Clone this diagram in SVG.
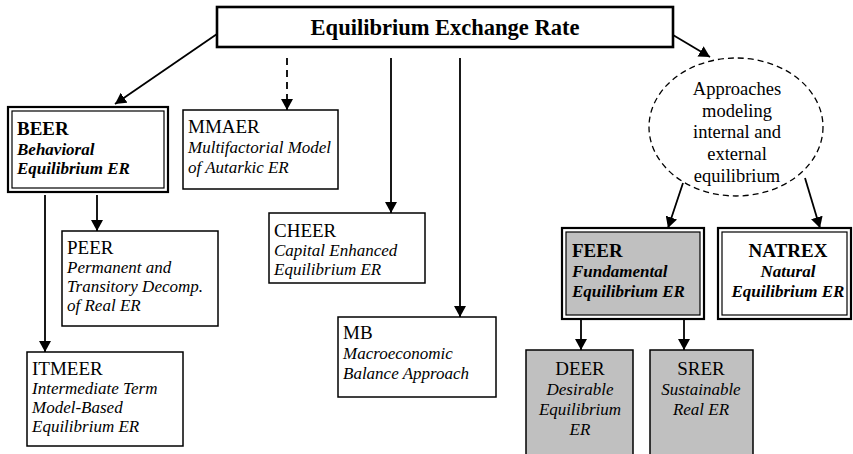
<svg xmlns="http://www.w3.org/2000/svg" width="853" height="454" viewBox="0 0 853 454" font-family="Liberation Serif, Times New Roman, serif">
<defs>
<marker id="ah" markerUnits="userSpaceOnUse" markerWidth="12" markerHeight="12" refX="11" refY="6" orient="auto">
<path d="M0,0 L11,6 L0,12 z" fill="#000"/>
</marker>
<style>
.h{font-size:19px}
.hb{font-size:19px;font-weight:bold}
.i{font-size:17px;font-style:italic}
.bi{font-size:17px;font-style:italic;font-weight:bold}
.e{font-size:18.5px;text-anchor:middle}
.c{text-anchor:middle}
.box{fill:#fff;stroke:#000;stroke-width:1.5}
.gbox{fill:#c0c0c0;stroke:#000;stroke-width:1.5}
.outer{stroke:#000;stroke-width:2.2}
.inner{stroke:#000;stroke-width:1.2}
.con{stroke:#000;stroke-width:1.8;fill:none;marker-end:url(#ah)}
</style>
</defs>
<rect width="853" height="454" fill="#fff"/>

<g id="connectors">
<line class="con" x1="217" y1="34" x2="115" y2="104"/>
<line class="con" x1="287" y1="58" x2="287" y2="110" stroke-dasharray="7,5"/>
<line class="con" x1="391" y1="58" x2="391" y2="213"/>
<line class="con" x1="460" y1="58" x2="460" y2="317"/>
<line class="con" x1="673" y1="35" x2="710" y2="57"/>
<line class="con" x1="683" y1="183" x2="668" y2="228"/>
<line class="con" x1="805" y1="178" x2="820" y2="228"/>
<line class="con" x1="97" y1="195" x2="97" y2="231"/>
<line class="con" x1="45" y1="195" x2="45" y2="352"/>
<line class="con" x1="581" y1="319" x2="581" y2="350"/>
<line class="con" x1="684" y1="319" x2="684" y2="350"/>
</g>

<g id="top">
<rect x="217" y="7" width="456" height="40" fill="#fff" stroke="#000" stroke-width="2.6"/>
<text x="445" y="35" font-size="22.5" font-weight="bold" text-anchor="middle">Equilibrium Exchange Rate</text>
</g>

<g id="beer">
<rect class="outer" x="8" y="107" width="160" height="85" fill="#fff"/>
<rect class="inner" x="12" y="111" width="152" height="77" fill="none"/>
<text class="hb" x="17" y="135">BEER</text>
<text class="bi" x="17" y="155">Behavioral</text>
<text class="bi" x="17" y="174">Equilibrium ER</text>
</g>

<g id="mmaer">
<rect class="box" x="183" y="110" width="155" height="79"/>
<text class="h" x="188" y="133">MMAER</text>
<text class="i" x="188" y="153">Multifactorial Model</text>
<text class="i" x="188" y="173">of Autarkic ER</text>
</g>

<g id="cheer">
<rect class="box" x="269" y="213" width="156" height="70"/>
<text class="h" x="274" y="237">CHEER</text>
<text class="i" x="274" y="256">Capital Enhanced</text>
<text class="i" x="274" y="275">Equilibrium ER</text>
</g>

<g id="mb">
<rect class="box" x="338" y="317" width="158" height="80"/>
<text class="h" x="343" y="339">MB</text>
<text class="i" x="343" y="359">Macroeconomic</text>
<text class="i" x="343" y="379">Balance Approach</text>
</g>

<g id="peer">
<rect class="box" x="62" y="231" width="156" height="95"/>
<text class="h" x="67" y="254">PEER</text>
<text class="i" x="67" y="273">Permanent and</text>
<text class="i" x="67" y="292">Transitory Decomp.</text>
<text class="i" x="67" y="311">of Real ER</text>
</g>

<g id="itmeer">
<rect class="box" x="27" y="352" width="156" height="94"/>
<text class="h" x="32" y="375">ITMEER</text>
<text class="i" x="32" y="394">Intermediate Term</text>
<text class="i" x="32" y="413">Model-Based</text>
<text class="i" x="32" y="432">Equilibrium ER</text>
</g>

<g id="approaches">
<ellipse cx="736" cy="127" rx="87" ry="69" fill="#fff" stroke="#000" stroke-width="1.3" stroke-dasharray="6,4"/>
<text class="e" x="737" y="95">Approaches</text>
<text class="e" x="737" y="117">modeling</text>
<text class="e" x="737" y="138">internal and</text>
<text class="e" x="737" y="160">external</text>
<text class="e" x="737" y="182">equilibrium</text>
</g>

<g id="feer">
<rect class="outer" x="562" y="228" width="142" height="91" fill="#fff"/>
<rect class="inner" x="566" y="232" width="134" height="83" fill="#c0c0c0"/>
<text class="hb" x="572" y="257">FEER</text>
<text class="bi" x="572" y="277">Fundamental</text>
<text class="bi" x="572" y="297">Equilibrium ER</text>
</g>

<g id="natrex">
<rect class="outer" x="718" y="228" width="133" height="91" fill="#fff"/>
<rect class="inner" x="722" y="232" width="125" height="83" fill="none"/>
<text class="hb c" x="788" y="257">NATREX</text>
<text class="bi c" x="788" y="277">Natural</text>
<text class="bi c" x="788" y="297">Equilibrium ER</text>
</g>

<g id="deer">
<rect class="gbox" x="526" y="350" width="107" height="110"/>
<text class="h c" x="580" y="375">DEER</text>
<text class="i c" x="580" y="395">Desirable</text>
<text class="i c" x="580" y="415">Equilibrium</text>
<text class="i c" x="580" y="435">ER</text>
</g>

<g id="srer">
<rect class="gbox" x="650" y="350" width="103" height="110"/>
<text class="h c" x="701" y="375">SRER</text>
<text class="i c" x="701" y="395">Sustainable</text>
<text class="i c" x="701" y="415">Real ER</text>
</g>
</svg>
